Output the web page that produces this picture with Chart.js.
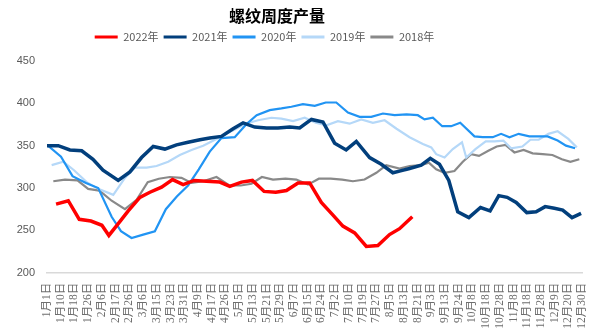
<!DOCTYPE html>
<html>
<head>
<meta charset="utf-8">
<script src="https://cdn.jsdelivr.net/npm/chart.js@4"></script>
<style>
  html, body { margin: 0; padding: 0; background: #fff; }
  #wrap { width: 606px; height: 331px; }
</style>
</head>
<body>
<div id="wrap"><canvas id="myChart" width="606" height="331"></canvas></div>
<script>
// category labels shown under the x axis (one per tick position 0..39)
const xLabels = ["1月1日", "1月10日", "1月18日", "1月26日", "2月6日", "2月17日", "2月26日", "3月6日",
  "3月15日", "3月23日", "3月31日", "4月9日", "4月17日", "4月26日", "5月5日", "5月13日", "5月21日",
  "5月29日", "6月7日", "6月15日", "6月24日", "7月2日", "7月10日", "7月19日", "7月27日", "8月5日",
  "8月13日", "8月21日", "9月3日", "9月13日", "9月24日", "10月8日", "10月18日", "10月28日", "11月8日",
  "11月18日", "11月28日", "12月9日", "12月20日", "12月30日"];

const yTicks = [200, 250, 300, 350, 400, 450];

// weekly output, [position on the date axis, value]
const s2022 = [[0.66,281],[1.55,285],[2.35,263],[3.2,261],[4.0,256],[4.51,244],[5.15,257],[5.92,273],
  [6.77,289],[7.5,295],[8.35,301],[9.15,310],[9.92,304],[10.72,309],[11.62,308],[12.59,307],[13.32,302],
  [14.17,307],[14.97,309],[15.82,296],[16.67,295],[17.45,297],[18.29,306],[19.14,306],[19.99,283],
  [20.84,268],[21.56,255],[22.42,247],[23.27,231],[24.11,232],[24.96,245],[25.69,252],[26.62,266]];

const s2021 = [[0,350],[0.82,350],[1.67,345],[2.53,344],[3.35,334],[4.08,321],[5.19,309],[6.04,319],
  [6.89,336],[7.74,349],[8.59,346],[9.44,351],[10.28,354],[11.14,357],[11.86,359],[12.71,361],[13.56,370],
  [14.29,377],[15.14,372],[16.0,371],[16.83,371],[17.69,372],[18.41,371],[19.27,381],[20.11,378],
  [20.96,353],[21.8,345],[22.54,355],[23.51,336],[24.36,328],[25.2,318],[25.69,320],[26.42,323],
  [27.27,327],[27.93,335],[28.6,328],[29.28,309],[29.93,272],[30.74,265],[31.59,277],[32.29,273],
  [32.92,291],[33.53,289],[34.19,283],[34.96,271],[35.64,272],[36.3,278],[36.97,276],[37.58,274],
  [38.26,265],[38.92,270]];

const s2020 = [[0,351],[1.02,337],[1.86,314],[2.84,306],[3.73,300],[4.71,266],[5.39,249],[6.16,241],
  [7.01,245],[7.86,249],[8.66,275],[9.46,290],[10.28,303],[11.06,322],[11.86,343],[12.71,359],[13.68,360],
  [14.56,376],[15.28,386],[16.23,392],[17.08,394],[17.81,396],[18.65,399],[19.51,397],[20.31,401],
  [21.08,401],[21.93,389],[22.78,384],[23.63,384],[24.48,388],[25.33,386],[26.2,387],[27.02,386],
  [27.51,381],[28.12,383],[28.8,373],[29.45,373],[30.11,377],[31.15,361],[31.75,360],[32.48,360],
  [33.09,364],[33.7,360],[34.37,364],[35.15,361],[35.88,361],[36.48,361],[37.21,356],[37.82,350],
  [38.48,347]];

const s2019 = [[0.34,327],[1.19,331],[1.97,321],[2.89,307],[3.73,299],[4.83,292],[5.68,312],[6.4,324],
  [7.26,324],[7.98,326],[8.83,331],[9.68,339],[10.53,345],[11.38,350],[12.35,358],[13.32,366],[14.48,376],
  [15.38,380],[16.35,383],[17.08,382],[17.93,379],[18.78,383],[19.58,377],[20.36,374],[21.2,379],
  [22.05,376],[22.9,381],[23.75,377],[24.6,380],[25.47,370],[26.42,360],[27.39,352],[28.0,348],
  [28.36,340],[28.97,336],[29.57,346],[30.24,354],[30.55,336],[31.22,346],[31.97,355],[32.61,355],
  [33.26,356],[33.82,347],[34.64,349],[35.23,357],[35.83,357],[36.54,364],[37.21,367],[37.99,358],
  [38.61,348]];

const s2018 = [[0.46,308],[1.31,310],[2.22,309],[3.0,299],[3.82,297],[4.71,285],[5.68,275],[6.53,286],
  [7.34,307],[8.15,311],[8.95,313],[9.8,312],[10.53,306],[11.38,308],[12.35,313],[13.29,303],[14.12,303],
  [14.9,305],[15.66,313],[16.47,310],[17.38,311],[18.17,310],[19.02,304],[19.81,311],[20.67,311],
  [21.51,310],[22.29,308],[23.14,310],[24.0,318],[24.72,327],[25.69,323],[26.42,326],[27.27,327],
  [27.82,330],[28.36,322],[28.97,318],[29.69,320],[30.3,331],[30.91,340],[31.48,338],[32.16,344],
  [32.77,349],[33.41,351],[34.06,342],[34.73,345],[35.39,341],[36.12,340],[36.83,339],[37.52,334],
  [38.14,331],[38.79,334]];

const seriesNames = ["2022年", "2021年", "2020年", "2019年", "2018年"];
const seriesData = [s2022, s2021, s2020, s2019, s2018];
const seriesColors = ["#FF0000", "#023F7C", "#2194F3", "#B5D8F8", "#898989"];
const seriesWidths = [3.5, 3.5, 2.2, 2.2, 2.2];

const toPoints = (arr) => arr.map(([x, y]) => ({ x: x, y: y }));

// Excel put the title and legend a little left of centre; nudge them after layout
const nudgeHeader = {
  id: "nudgeHeader",
  afterLayout(chart) {
    const t = chart.titleBlock;
    const l = chart.legend;
    if (t) { t.left -= 14.5; t.right -= 14.5; }
    if (l) { l.left -= 27; l.right -= 27; l.top -= 8.5; l.bottom -= 8.5; }
  },
};

const ctx = document.getElementById("myChart").getContext("2d");
new Chart(ctx, {
  type: "line",
  data: {
    datasets: seriesNames.map((name, i) => ({
      label: name,
      data: toPoints(seriesData[i]),
      borderColor: seriesColors[i],
      backgroundColor: seriesColors[i],
      borderWidth: seriesWidths[i],
      pointRadius: 0,
      tension: 0,
      fill: false,
    })),
  },
  options: {
    responsive: false,
    animation: false,
    layout: { padding: { left: 0, right: 23, top: 0, bottom: 0 } },
    plugins: {
      title: {
        display: true,
        text: "螺纹周度产量",
        color: "#000",
        font: { family: "'Noto Sans CJK SC'", size: 16, weight: "bold", lineHeight: 1.2 },
        padding: { top: 6.4, bottom: 9.4 },
      },
      legend: {
        display: true,
        position: "top",
        labels: {
          boxWidth: 23,
          boxHeight: 3,
          padding: 5,
          color: "#595959",
          font: { family: "'Noto Sans CJK SC'", size: 11 },
          generateLabels: function (chart) {
            const items = Chart.defaults.plugins.legend.labels.generateLabels(chart);
            items.forEach((it) => { it.lineWidth = 0; });
            return items;
          },
        },
      },
      tooltip: { enabled: false },
    },
    scales: {
      x: {
        type: "linear",
        min: 0,
        max: xLabels.length - 1,
        grid: { display: false, drawTicks: false },
        border: { display: true, color: "#D9D9D9", width: 1.5 },
        ticks: {
          stepSize: 1,
          autoSkip: false,
          minRotation: 90,
          maxRotation: 90,
          padding: 10,
          color: "#6E6E6E",
          font: { family: "'Liberation Serif', 'Noto Sans CJK SC'", size: 11.5 },
          callback: (v) => xLabels[v] ?? "",
        },
        afterFit: (s) => { s.height = 58.3; },
      },
      y: {
        min: yTicks[0],
        max: yTicks[yTicks.length - 1],
        grid: { display: false, drawTicks: false },
        border: { display: false },
        ticks: {
          stepSize: 50,
          padding: 12,
          color: "#595959",
          font: { family: "'Liberation Sans'", size: 11 },
        },
        afterFit: (s) => { s.width = 47; },
      },
    },
  },
  plugins: [nudgeHeader],
});
</script>
</body>
</html>
